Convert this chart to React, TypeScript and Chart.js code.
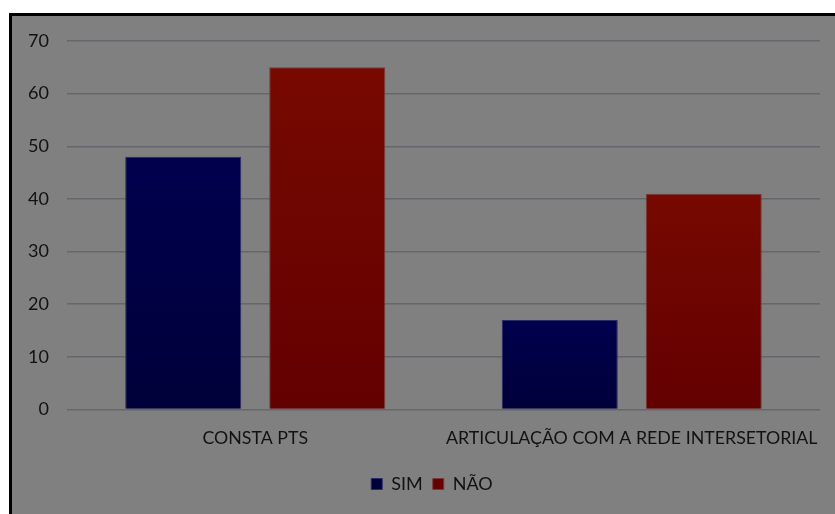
import React, { useEffect, useRef } from "react";
import { Chart, registerables } from "chart.js";

Chart.register(...registerables);

const categories = ["CONSTA PTS", "ARTICULAÇÃO COM A REDE INTERSETORIAL"];
const simValues = [48, 17];
const naoValues = [65, 41];
const seriesNames = ["SIM", "NÃO"];

const FONT = "Lato, 'Open Sans', sans-serif";
const TEXT = "#121212";

function barGradient(top: string, bottom: string, flat: string) {
  return (ctx: any) => {
    const chart = ctx.chart;
    const ys = chart.scales && chart.scales.y;
    if (!ys || ctx.raw == null) return flat;
    const y0 = ys.getPixelForValue(ctx.raw);
    const y1 = ys.getPixelForValue(0);
    if (!isFinite(y0) || !isFinite(y1) || y0 === y1) return flat;
    const g = chart.ctx.createLinearGradient(0, y0, 0, y1);
    g.addColorStop(0, top);
    g.addColorStop(1, bottom);
    return g;
  };
}

const legendShift = {
  id: "legendShift",
  afterLayout(chart: any) {
    const lg = chart.legend;
    if (lg) {
      lg.left += 16;
      lg.right += 16;
    }
  },
};

export default function App() {
  const ref = useRef<HTMLCanvasElement | null>(null);

  useEffect(() => {
    if (!ref.current) return;
    const chart = new Chart(ref.current, {
      type: "bar",
      data: {
        labels: categories,
        datasets: [
          {
            label: seriesNames[0],
            data: simValues,
            backgroundColor: barGradient("#00004e", "#00003a", "#000048"),
            borderColor: "#2a2a66",
            borderWidth: 1,
            categoryPercentage: 0.765,
            barPercentage: 0.806,
          },
          {
            label: seriesNames[1],
            data: naoValues,
            backgroundColor: barGradient("#770900", "#630000", "#6e0500"),
            borderColor: "#7a3a3a",
            borderWidth: 1,
            categoryPercentage: 0.765,
            barPercentage: 0.806,
          },
        ],
      },
      options: {
        responsive: false,
        animation: false,
        devicePixelRatio: 1,
        layout: { padding: { top: 25, right: 15, bottom: 11, left: 0 } },
        scales: {
          x: {
            grid: { display: false, drawTicks: false },
            border: { display: false },
            ticks: {
              color: TEXT,
              font: { family: FONT, size: 17.8 },
              padding: 18,
              maxRotation: 0,
              autoSkip: false,
            },
            afterFit: (s: any) => {
              s.height = 55.5;
              s.paddingLeft = 0;
              s.paddingRight = 0;
            },
          },
          y: {
            min: 0,
            max: 70,
            ticks: {
              stepSize: 10,
              color: TEXT,
              font: { family: FONT, size: 18 },
              padding: 18,
            },
            grid: { color: "#66676c", lineWidth: 1.5, drawTicks: false },
            border: { display: false },
            afterFit: (s: any) => {
              s.width = 55;
              s.paddingTop = 0;
              s.paddingBottom = 0;
            },
          },
        },
        plugins: {
          legend: {
            position: "bottom",
            labels: {
              color: TEXT,
              font: { family: FONT, size: 18 },
              boxWidth: 11,
              boxHeight: 11,
              padding: 10,
            },
          },
          tooltip: { enabled: false },
        },
      },
      plugins: [legendShift],
    });
    return () => chart.destroy();
  }, []);

  return (
    <div
      style={{
        position: "absolute",
        left: 9,
        top: 13,
        width: 823,
        height: 498,
        borderLeft: "3px solid #000",
        borderTop: "3px solid #000",
        background: "#808080",
        overflow: "hidden",
      }}
    >
      <canvas ref={ref} width={823} height={498} style={{ display: "block" }} />
    </div>
  );
}
